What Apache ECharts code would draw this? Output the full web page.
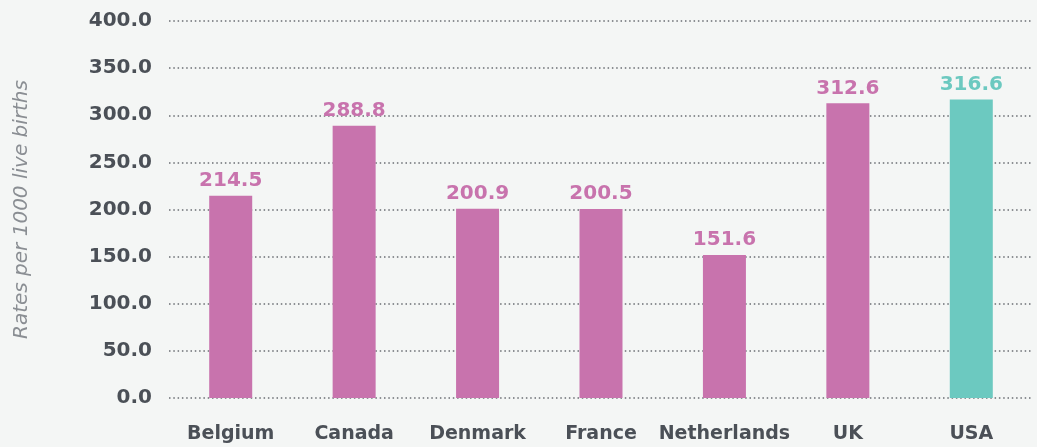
<!DOCTYPE html>
<html>
<head>
<meta charset="utf-8">
<script src="https://cdn.jsdelivr.net/npm/echarts@6/dist/echarts.min.js"></script>
<style>
  html, body { margin: 0; padding: 0; background: #f4f6f5; }
  #chart { width: 1037px; height: 447px; }
</style>
</head>
<body>
<div id="chart"></div>
<script>
const countries = ['Belgium', 'Canada', 'Denmark', 'France', 'Netherlands', 'UK', 'USA']
const rates = [214.5, 288.8, 200.9, 200.5, 151.6, 312.6, 316.6]
const highlight = 'USA' // 美国单独配色

const pink = '#c873ad'
const teal = '#6cc9c0'
const textColor = '#4b5057'

const chart = echarts.init(document.getElementById('chart'))

const barData = rates.map((v, i) => {
  const c = countries[i] === highlight ? teal : pink
  return {
    value: v,
    itemStyle: { color: c },
    label: { color: c },
  }
})

const options = {
  backgroundColor: '#f4f6f5',
  animation: false,
  grid: {
    left: 169,
    right: 4,
    top: 21,
    bottom: 49,
    containLabel: false,
  },
  xAxis: {
    type: 'category',
    data: countries,
    axisLine: { show: false },
    axisTick: { show: false },
    axisLabel: {
      color: textColor,
      fontFamily: 'DejaVu Sans',
      fontWeight: 'bold',
      fontSize: 19,
      margin: 27,
      interval: 0,
    },
  },
  yAxis: {
    type: 'value',
    min: 0,
    max: 400,
    interval: 50,
    name: 'Rates per 1000 live births',
    nameLocation: 'middle',
    nameGap: 137,
    nameRotate: 90,
    nameTextStyle: {
      color: '#8a8e93',
      fontFamily: 'DejaVu Sans',
      fontStyle: 'italic',
      fontWeight: 'normal',
      fontSize: 20,
    },
    axisLine: { show: false },
    axisTick: { show: false },
    splitLine: {
      show: true,
      lineStyle: {
        color: '#6a6e73',
        width: 1.5,
        type: [1.5, 2.8],
      },
    },
    axisLabel: {
      color: textColor,
      fontFamily: 'DejaVu Sans',
      fontWeight: 'bold',
      fontSize: 20,
      margin: 17,
      formatter: (v) => v.toFixed(1),
    },
  },
  series: [
    {
      type: 'bar',
      barWidth: 43,
      data: barData,
      label: {
        show: true,
        position: 'top',
        distance: 5,
        fontFamily: 'DejaVu Sans',
        fontWeight: 'bold',
        fontSize: 20,
        formatter: (p) => p.value.toFixed(1),
      },
    },
  ],
}
chart.setOption(options, true)
</script>
</body>
</html>
